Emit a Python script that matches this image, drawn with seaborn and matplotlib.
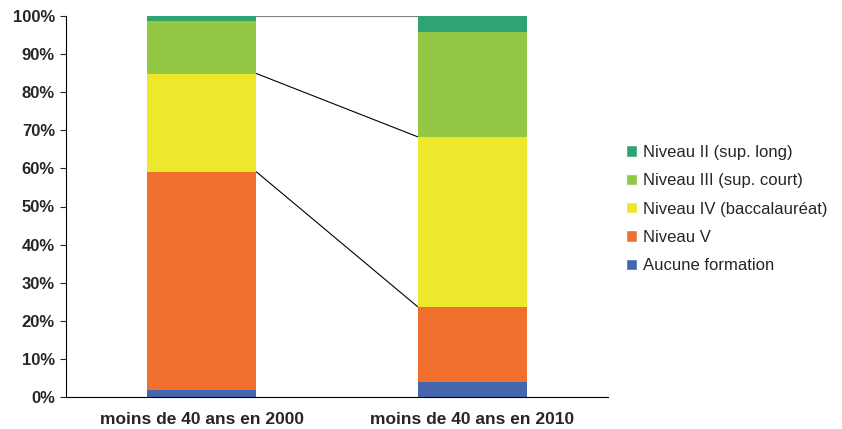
import numpy as np
import pandas as pd
import matplotlib
matplotlib.use("Agg")
import matplotlib.pyplot as plt
from matplotlib.patches import Patch
import seaborn as sns

categories = ["moins de 40 ans en 2000", "moins de 40 ans en 2010"]
niveaux = ["Aucune formation", "Niveau V", "Niveau IV (baccalauréat)",
           "Niveau III (sup. court)", "Niveau II (sup. long)"]
aucune = [1.8, 4.0]
niveau_v = [57.3, 19.7]
niveau_iv = [25.8, 44.6]
niveau_iii = [13.9, 27.5]
niveau_ii = [1.2, 4.2]
couleurs = ["#4565AE", "#F2702E", "#EDE82B", "#93C845", "#30A372"]

sns.set_style("white")
plt.rcParams["font.family"] = ["Liberation Sans", "DejaVu Sans"]

df = pd.DataFrame({"cat": categories})
series = [aucune, niveau_v, niveau_iv, niveau_iii, niveau_ii]
cum = np.cumsum(np.array(series), axis=0)
for i, nom in enumerate(niveaux):
    df[nom] = cum[i]

fig = plt.figure(figsize=(8.42, 4.29), dpi=100)
ax = fig.add_axes([66 / 842, 32 / 429, 542 / 842, 381 / 429])

bw = 0.405
# draw from top layer down so lower layers overlap
for i in range(len(niveaux) - 1, -1, -1):
    sns.barplot(data=df, x="cat", y=niveaux[i], color=couleurs[i],
                width=bw, saturation=1, linewidth=0, ax=ax, zorder=2)

# series lines between the bars
for i, c in [(1, "black"), (2, "black"), (4, "#808080")]:
    ax.plot([bw / 2, 1 - bw / 2], df[niveaux[i]].values, color=c,
            lw=0.8, zorder=1)

ax.set_ylim(0, 100)
ax.set_xlim(-0.5, 1.5)
ax.set_yticks(np.arange(0, 101, 10))
ax.set_yticklabels([f"{v}%" for v in range(0, 101, 10)],
                   fontsize=12, fontweight="bold")
ax.set_xticks([0, 1])
ax.set_xticklabels(categories, fontsize=12.5, fontweight="bold")
ax.set_xticks([0.5], minor=True)
ax.tick_params(axis="x", which="major", length=0, pad=11)
ax.tick_params(axis="x", which="minor", length=5, direction="in", width=0.8)
ax.tick_params(axis="y", length=4, direction="out", width=0.8, left=True, pad=4)
ax.set_xlabel("")
ax.set_ylabel("")
sns.despine(ax=ax, top=True, right=True)
for s in ["left", "bottom"]:
    ax.spines[s].set_color("black")
    ax.spines[s].set_linewidth(0.8)

handles = [Patch(facecolor=couleurs[i], label=niveaux[i])
           for i in range(len(niveaux) - 1, -1, -1)]
fig.legend(handles=handles, loc="center left",
           bbox_to_anchor=(611 / 842, 1 - 209 / 429), frameon=False,
           fontsize=12, handlelength=0.65, handleheight=0.65,
           handletextpad=0.35, labelspacing=0.8)

fig.savefig("out.png", dpi=100)
